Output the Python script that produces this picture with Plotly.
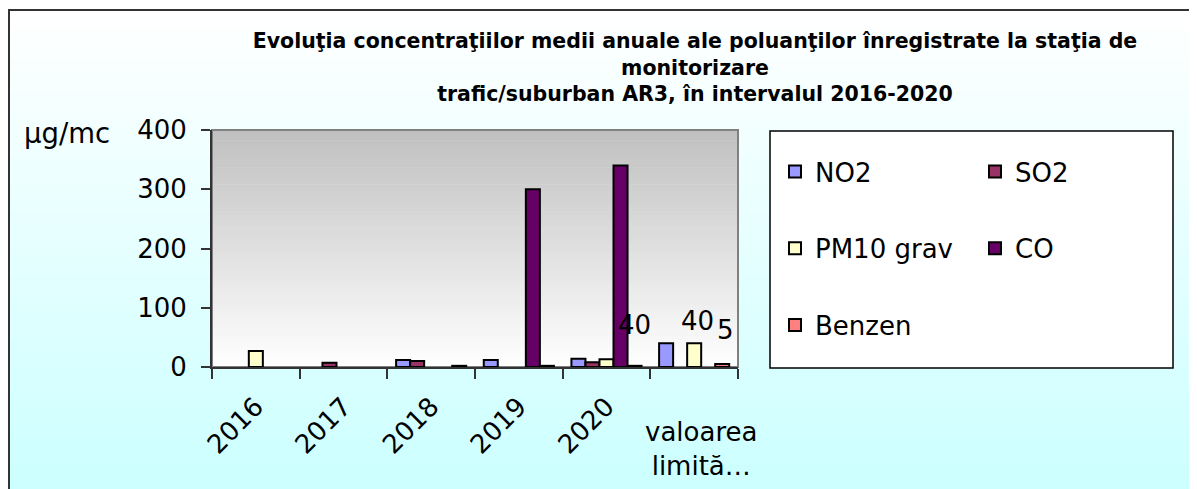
import plotly.graph_objects as go

# ---------------- data ----------------
categories = ["2016", "2017", "2018", "2019", "2020", "valoarea limită…"]
series_names = ["NO2", "SO2", "PM10 grav", "CO", "Benzen"]
no2 = [None, None, 12, 12, 14, 40]
so2 = [None, 7, 10, None, 8, None]
pm10 = [27, None, None, None, 13, 40]
co = [None, None, None, 300, 340, None]
benzen = [None, None, 2, 2, 2, 5]
y_ticks = [0, 100, 200, 300, 400]
y_unit = "µg/mc"
title_lines = [
    "Evoluţia concentraţiilor medii anuale ale poluanţilor înregistrate la staţia de",
    "monitorizare",
    "trafic/suburban AR3, în intervalul 2016-2020",
]

# ---------------- styles ----------------
series_values = [no2, so2, pm10, co, benzen]
colors = ["#9999ff", "#993366", "#ffffcc", "#660066", "#ff8080"]
legend_of = ["legend", "legend2", "legend", "legend2", "legend"]

W, H = 1197, 489
OFF = 8  # page body margin: figure origin sits 8px right/down in the window
# plot area in screen coordinates
L, R, T, B = 212 - OFF, 738 - OFF, 130 - OFF, 367 - OFF
FONT = "DejaVu Sans, Liberation Sans, Arial, sans-serif"
FS = 26


def xp(px):  # screen px -> paper
    return (px - OFF - L) / (R - L)


def yp(py):  # screen px -> paper
    return (B - (py - OFF)) / (B - T)


def mix(c1, c2, t):
    a = [int(c1[i:i + 2], 16) for i in (1, 3, 5)]
    b = [int(c2[i:i + 2], 16) for i in (1, 3, 5)]
    return "rgb(%d,%d,%d)" % tuple(round(a[k] + (b[k] - a[k]) * t) for k in range(3))


fig = go.Figure()
for name, vals, col, lg in zip(series_names, series_values, colors, legend_of):
    fig.add_trace(go.Bar(
        x=categories, y=vals, name=name, legend=lg, legendgroup=name,
        marker=dict(color=col, line=dict(color="#000000", width=2)),
        hoverinfo="x+y+name",
    ))

shapes = []
# page gradient (white -> light cyan)
n = 90
top, bot = 10, 489 + OFF
for i in range(n):
    y0 = top + (bot - top) * i / n
    y1 = top + (bot - top) * (i + 1) / n + 0.6
    shapes.append(dict(type="rect", xref="paper", yref="paper", layer="below",
                       x0=xp(9), x1=xp(W + 20), y0=yp(y0), y1=yp(y1),
                       fillcolor=mix("#ffffff", "#ccffff", min(1, (i + 0.5) / (n - 2))),
                       line=dict(width=0)))
# plot area gradient (gray -> white)
n = 70
for i in range(n):
    y0 = T + (B - T) * i / n
    y1 = min(T + (B - T) * (i + 1) / n + 0.6, B)
    shapes.append(dict(type="rect", xref="paper", yref="paper", layer="below",
                       x0=0, x1=1, y0=(B - y0) / (B - T), y1=(B - y1) / (B - T),
                       fillcolor=mix("#c0c0c0", "#ffffff", (i + 0.5) / n), line=dict(width=0)))
# plot area border (gray)
shapes.append(dict(type="rect", xref="paper", yref="paper", layer="below",
                   x0=0, x1=1, y0=0, y1=1, line=dict(color="#808080", width=2)))
# outer frame
shapes.append(dict(type="line", xref="paper", yref="paper", layer="below",
                   x0=xp(9), x1=xp(9), y0=yp(10), y1=yp(H + 20), line=dict(color="#333333", width=2)))
shapes.append(dict(type="line", xref="paper", yref="paper", layer="below",
                   x0=xp(8), x1=xp(W + 20), y0=yp(10), y1=yp(10), line=dict(color="#333333", width=2)))
# legend box
shapes.append(dict(type="rect", xref="paper", yref="paper", layer="below",
                   x0=xp(770), x1=xp(1173), y0=yp(131), y1=yp(368),
                   fillcolor="#ffffff", line=dict(color="#000000", width=1.5)))

annotations = [
    dict(text=y_unit, xref="paper", yref="paper", x=xp(22), y=yp(133),
         xanchor="left", yanchor="middle", showarrow=False,
         font=dict(family=FONT, size=27.5, color="#000000")),
    dict(text=categories[-1].replace(" ", "<br>", 1), xref="x", yref="paper",
         x=categories[-1], y=yp(449), xanchor="center", yanchor="middle", xshift=7,
         showarrow=False, font=dict(family=FONT, size=FS, color="#000000")),
]
label_shift = {"NO2": (-60, 1), "PM10 grav": (3, 5), "Benzen": (31, 17)}
for name, vals in zip(series_names, series_values):
    v = vals[-1]
    if v is None:
        continue
    dx, dy = label_shift[name]
    annotations.append(dict(text=str(v), xref="x", yref="y", x=categories[-1], y=v,
                            xanchor="center", yanchor="bottom", xshift=dx, yshift=dy,
                            showarrow=False, font=dict(family=FONT, size=FS, color="#000000")))

ticktext = categories[:-1] + [""]

legend_common = dict(xref="container", yref="container", xanchor="left", yanchor="top",
                     bgcolor="rgba(0,0,0,0)", font=dict(family=FONT, size=FS, color="#000000"),
                     tracegroupgap=40, traceorder="grouped")

fig.update_layout(
    width=W, height=H,
    margin=dict(l=L, r=W - R, t=T, b=H - B, pad=0, autoexpand=False),
    paper_bgcolor="#ffffff", plot_bgcolor="#ffffff",
    barmode="group", bargap=0.2, bargroupgap=0,
    font=dict(family=FONT, size=FS, color="#000000"),
    title=dict(text="<b>" + "<br>".join(title_lines) + "</b>",
               xref="container", yref="container", x=(695 - OFF) / W, y=1 - 40 / H,
               xanchor="center", yanchor="top",
               font=dict(family=FONT, size=20.5, color="#000000")),
    xaxis=dict(type="category", categoryorder="array", categoryarray=categories,
               range=[-0.5, len(categories) - 0.5], tickvals=categories, ticktext=ticktext,
               tickson="boundaries", ticks="outside", ticklen=10, tickwidth=2, tickcolor="#333333",
               showline=True, linecolor="#333333", linewidth=2, showgrid=False, zeroline=False,
               tickangle=-45, ticklabelstandoff=12,
               tickfont=dict(family=FONT, size=FS, color="#000000")),
    yaxis=dict(range=[0, 400], tickvals=y_ticks, ticks="outside", ticklen=9, tickwidth=2,
               tickcolor="#333333", showline=True, linecolor="#333333", linewidth=2,
               showgrid=False, zeroline=False, ticklabelstandoff=9,
               tickfont=dict(family=FONT, size=FS, color="#000000")),
    legend=dict(x=(816 - 41 - OFF) / W, y=1 - (148 - OFF) / H, **legend_common),
    legend2=dict(x=(1016 - 41 - OFF) / W, y=1 - (148 - OFF) / H, **legend_common),
    shapes=shapes,
    annotations=annotations,
)

fig.write_html("out.html")
